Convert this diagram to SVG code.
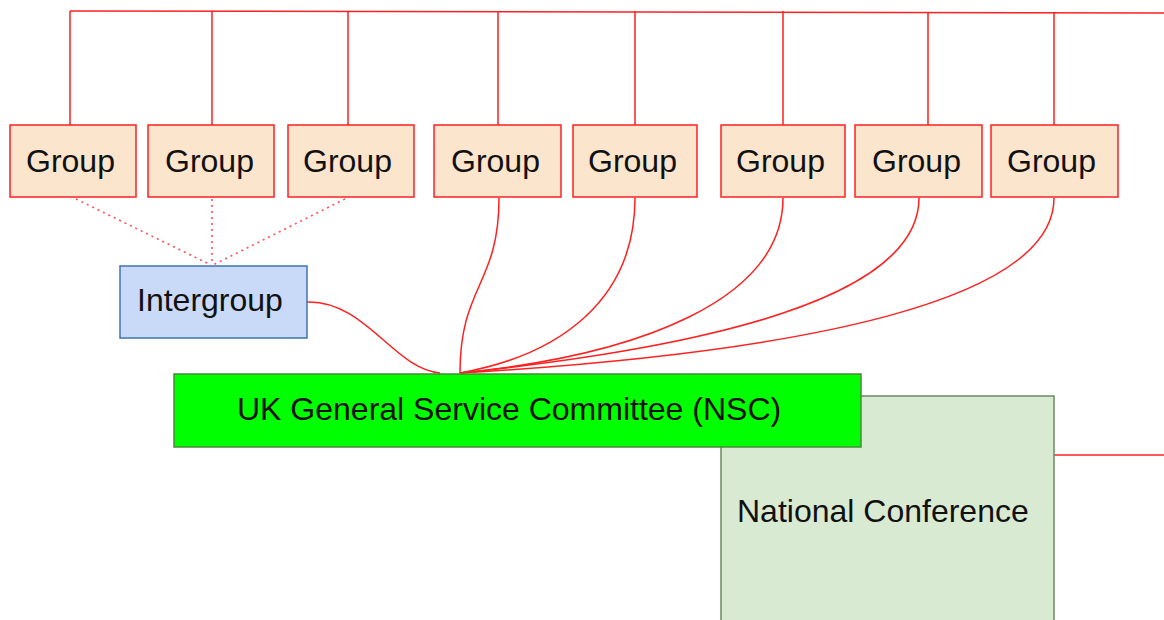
<svg xmlns="http://www.w3.org/2000/svg" width="1164" height="620" viewBox="0 0 1164 620">
<style>
.lbl{font-family:"Liberation Sans",Arial,sans-serif;font-size:32px;fill:#111}
.grp{fill:#fce5cd;stroke:#ff2020;stroke-width:1.5}
.ln{fill:none;stroke:#ff2020;stroke-width:1.5}
.dot{fill:none;stroke:#ff5050;stroke-width:1.6;stroke-dasharray:2 4}
</style>
<rect width="1164" height="620" fill="#fff"/>
<g id="connectors">
<path class="ln" d="M70,11 L1164,13"/>
<path class="ln" d="M70,11 V125 M212,11 V125 M348,11 V125 M498,11 V125 M635,11 V125 M783,11 V125 M928,12 V125 M1054,12 V125"/>
<path class="dot" d="M76,199 L211,265 M212,199 L212,265 M345,199 L213,265"/>
<path class="ln" d="M307,302 C365,300 395,370 440,373"/>
<path class="ln" d="M499,198 C499,285 460,285 460,373"/>
<path class="ln" d="M635,198 C635,300 560,355 460,373"/>
<path class="ln" d="M783,198 C783,300 640,355 460,373"/>
<path class="ln" d="M919,198 C919,300 700,348 460,373"/>
<path class="ln" d="M1054,198 C1054,300 810,352 460,373"/>
<path class="ln" d="M1054,455 H1164"/>
</g>
<g id="group1"><rect class="grp" x="10" y="125" width="126" height="72"/><text class="lbl" x="26" y="172">Group</text></g>
<g id="group2"><rect class="grp" x="148" y="125" width="126" height="72"/><text class="lbl" x="165" y="172">Group</text></g>
<g id="group3"><rect class="grp" x="288" y="125" width="126" height="72"/><text class="lbl" x="303" y="172">Group</text></g>
<g id="group4"><rect class="grp" x="434" y="125" width="127" height="72"/><text class="lbl" x="451" y="172">Group</text></g>
<g id="group5"><rect class="grp" x="573" y="125" width="124" height="72"/><text class="lbl" x="588" y="172">Group</text></g>
<g id="group6"><rect class="grp" x="721" y="125" width="124" height="72"/><text class="lbl" x="736" y="172">Group</text></g>
<g id="group7"><rect class="grp" x="855" y="125" width="127" height="72"/><text class="lbl" x="872" y="172">Group</text></g>
<g id="group8"><rect class="grp" x="991" y="125" width="127" height="72"/><text class="lbl" x="1007" y="172">Group</text></g>
<g id="intergroup"><rect x="120" y="266" width="187" height="72" fill="#c9daf8" stroke="#3d74b0" stroke-width="1.5"/><text class="lbl" x="137" y="311">Intergroup</text></g>
<g id="national-conference"><rect x="721" y="396" width="333" height="240" fill="#d9ead3" stroke="#6a8a5f" stroke-width="1.5"/><text class="lbl" x="737" y="522">National Conference</text></g>
<g id="nsc"><rect x="174" y="374" width="687" height="73" fill="#00ff00" stroke="#4a8b3a" stroke-width="1.5"/><text class="lbl" x="237" y="420">UK General Service Committee (NSC)</text></g>
</svg>
